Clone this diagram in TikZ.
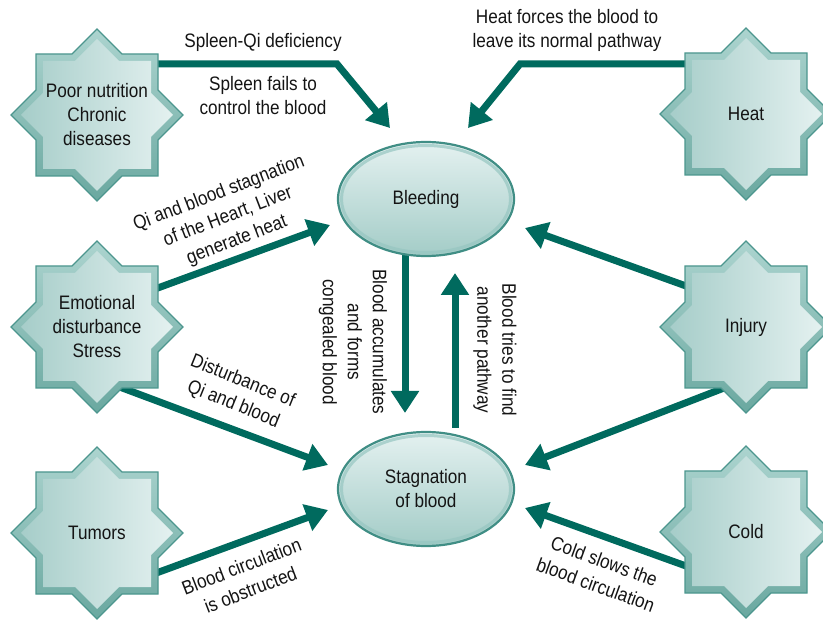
\documentclass[tikz,border=0pt]{standalone}
\usepackage{fontspec}
\setmainfont{Liberation Sans}[FakeStretch=0.88]
\usetikzlibrary{shapes.geometric,arrows.meta}

\definecolor{flowteal}{RGB}{0,106,94}
\definecolor{rim}{RGB}{76,150,142}
\definecolor{bevtop}{RGB}{172,212,207}
\definecolor{bevbot}{RGB}{106,168,160}
\definecolor{faceleft}{RGB}{166,205,201}
\definecolor{faceright}{RGB}{228,241,240}
\definecolor{ellrim}{RGB}{64,142,133}
\definecolor{elltop}{RGB}{228,241,240}
\definecolor{ellbot}{RGB}{163,204,199}
\definecolor{ellband}{RGB}{150,198,193}
\definecolor{txt}{RGB}{20,20,20}

\pgfdeclarelayer{arrowlayer}
\pgfdeclarelayer{shapelayer}
\pgfsetlayers{arrowlayer,shapelayer,main}

% eight-pointed star: #1 path options, #2 half side of the square, #3 tip distance
\newcommand\starfill[3]{%
  \path[#1] (#3,0) -- (#2,#3-#2) -- (#2,#2) -- (#3-#2,#2) -- (0,#3)
    -- (#2-#3,#2) -- (-#2,#2) -- (-#2,#3-#2) -- (-#3,0) -- (-#2,#2-#3)
    -- (-#2,-#2) -- (#2-#3,-#2) -- (0,-#3) -- (#3-#2,-#2) -- (#2,-#2)
    -- (#2,#2-#3) -- cycle;}

% bevelled star drawn behind a named node
\newcommand\octostar[1]{%
  \begin{pgfonlayer}{shapelayer}
    \begin{scope}[shift={(#1.center)}]
      \starfill{draw=rim, line width=1.4pt, top color=bevtop, bottom color=bevbot}{61}{86}
      \starfill{left color=faceleft, right color=faceright}{54}{76}
    \end{scope}
  \end{pgfonlayer}}

\tikzset{
  lbl/.style={align=center, font=\fontsize{19.5}{24}\selectfont, text=txt, inner sep=0pt},
  rlbl/.style={lbl, font=\fontsize{19.5}{25}\selectfont},
  ellnode/.style={ellipse, minimum width=176pt, minimum height=114pt, inner sep=0pt,
    draw=ellrim, line width=2.2pt, top color=elltop, bottom color=ellbot,
    align=center, font=\fontsize{19.5}{24}\selectfont, text=txt},
  flow/.style={draw=flowteal, line width=7pt, -{Triangle[length=22pt,width=27pt]}}
}

\begin{document}
\begin{tikzpicture}[x=1pt,y=-1pt]
\useasboundingbox (0,0) rectangle (823,620);

% causes
\node[lbl] (pn) at (97,115) {Poor nutrition\\Chronic\\diseases};
\node[lbl] (he) at (746,114) {Heat};
\node[lbl] (em) at (97,327) {Emotional\\disturbance\\Stress};
\node[lbl] (in) at (746,327) {Injury};
\node[lbl] (tu) at (97,533) {Tumors};
\node[lbl] (co) at (746,532) {Cold};
\octostar{pn}
\octostar{he}
\octostar{em}
\octostar{in}
\octostar{tu}
\octostar{co}

% central states
\node[ellnode] (bl) at (426,199) {Bleeding};
\node[ellnode] (st) at (426,489) {Stagnation\\of blood};
\draw[ellband, line width=3pt, opacity=0.7] (bl.center) ellipse [x radius=84.5, y radius=53.5];
\draw[ellband, line width=3pt, opacity=0.7] (st.center) ellipse [x radius=84.5, y radius=53.5];

% connectors
\begin{pgfonlayer}{arrowlayer}
  \draw[flow] ([shift={(58,-51)}]pn.center) -- ++(182,0) -- ([shift={(-36,-71)}]bl.center);
  \draw[flow] ([shift={(-58,-50)}]he.center) -- ++(-168,0) -- ([shift={(42,-71)}]bl.center);
  \draw[flow] ([shift={(58,-38)}]em.center) -- ([shift={(-96,26)}]bl.center);
  \draw[flow] ([shift={(20,59)}]em.center) -- ([shift={(-98,-24)}]st.center);
  \draw[flow] ([shift={(43,46)}]tu.center) -- ([shift={(-98,21)}]st.center);
  \draw[flow] ([shift={(-60,-41)}]in.center) -- ([shift={(99,29)}]bl.center);
  \draw[flow] ([shift={(-22,61)}]in.center) -- ([shift={(99,-24)}]st.center);
  \draw[flow] ([shift={(-60,34)}]co.center) -- ([shift={(99,19)}]st.center);
  \draw[flow] ([shift={(-21,55)}]bl.center) -- ([shift={(-21,-76)}]st.center);
  \draw[flow] ([shift={(29,-61)}]st.center) -- ([shift={(29,74)}]bl.center);
\end{pgfonlayer}

% connector labels
\node[lbl] (l1) at (263,42) {Spleen-Qi deficiency};
\node[lbl] (l2) at (263,96) {Spleen fails to\\control the blood};
\node[lbl] (l3) at (567,30) {Heat forces the blood to\\leave its normal pathway};
\node[rlbl, rotate=21] (l4) at (228,217) {Qi and blood stagnation\\of the Heart, Liver\\generate heat};
\node[rlbl, rotate=-22] (l5) at (238,393) {Disturbance of\\Qi and blood};
\node[rlbl, rotate=21] (l6) at (246,578) {Blood circulation\\is obstructed};
\node[rlbl, rotate=-20] (l7) at (600,573) {Cold slows the\\blood circulation};
\node[rlbl, rotate=-90] (l8) at (353,342) {Blood accumulates\\and forms\\congealed blood};
\node[rlbl, rotate=-90] (l9) at (495,350) {Blood tries to find\\another pathway};
\end{tikzpicture}
\end{document}
